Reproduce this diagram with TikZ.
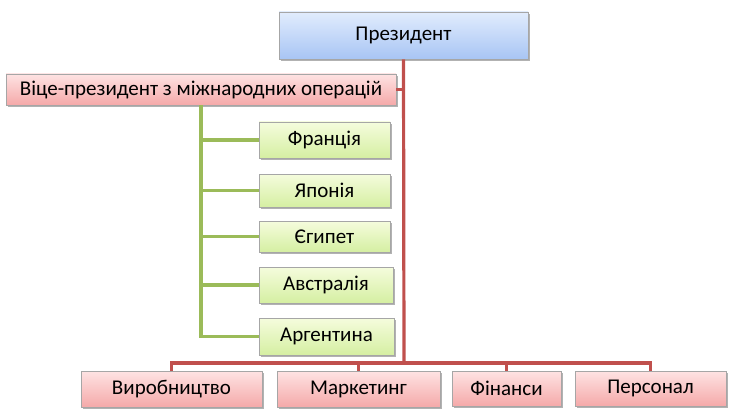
\documentclass[tikz,border=0pt]{standalone}
\usepackage{fontspec}
\setmainfont{Carlito}
\usetikzlibrary{shadows}
\definecolor{bordergray}{HTML}{A6A6A6}
\definecolor{redline}{HTML}{C0504D}
\definecolor{greenline}{HTML}{9BBB59}
\definecolor{bluetop}{HTML}{E1ECFD}
\definecolor{bluebot}{HTML}{A8C5F4}
\definecolor{redtop}{HTML}{FEE3E3}
\definecolor{redbot}{HTML}{F5A9A9}
\definecolor{greentop}{HTML}{F5FCDD}
\definecolor{greenbot}{HTML}{D5EFA2}
\tikzset{
  box/.style={draw=bordergray, line width=0.6pt, inner sep=2pt,
    font=\fontsize{21}{25}\selectfont, text=black,
    drop shadow={shadow xshift=1.5pt, shadow yshift=-1.8pt, opacity=0.3, fill=black}},
  bluebox/.style={box, top color=bluetop, bottom color=bluebot},
  redbox/.style={box, top color=redtop, bottom color=redbot},
  greenbox/.style={box, top color=greentop, bottom color=greenbot},
  rline/.style={draw=redline, line width=3.2pt},
  gline/.style={draw=greenline, line width=3.2pt},
}
\begin{document}
\begin{tikzpicture}[x=1pt,y=-1pt]
\useasboundingbox (0,0) rectangle (732,420);
\coordinate (bus) at (404,363);
\node[bluebox, minimum width=249pt, minimum height=47pt] (pres) at (403.5,35.5) {Президент};
\node[redbox, minimum width=390pt, minimum height=31pt] (vp) at (201,89.5) {Віце-президент з міжнародних операцій};
\node[greenbox, minimum width=131pt, minimum height=36pt] (fr) at (324.5,140) {Франція};
\node[greenbox, minimum width=131pt, minimum height=33pt] (jp) at (324.5,190.5) {Японія};
\node[greenbox, minimum width=131pt, minimum height=31pt] (eg) at (324.5,236.5) {Єгипет};
\node[greenbox, minimum width=134pt, minimum height=36pt] (au) at (326,285) {Австралія};
\node[greenbox, minimum width=135pt, minimum height=37pt] (ar) at (326.5,336.5) {Аргентина};
\node[redbox, minimum width=181pt, minimum height=36pt] (vyr) at (171.5,389) {Виробництво};
\node[redbox, minimum width=163pt, minimum height=36pt] (mar) at (358.5,389) {Маркетинг};
\node[redbox, minimum width=109pt, minimum height=35pt] (fin) at (506.5,388.5) {Фінанси};
\node[redbox, minimum width=151pt, minimum height=35pt] (per) at (650.5,388.5) {Персонал};
\path[rline] (pres.south) -- (bus);
\path[rline] (vp.east) -- (vp.east -| bus);
\path[rline] (vyr.north) |- (bus) -| (per.north);
\path[rline] (mar.north) -- (mar.north |- bus);
\path[rline] (fin.north) -- (fin.north |- bus);
\path[gline] (vp.south) |- (ar.west);
\path[gline] (vp.south |- fr.west) -- (fr.west);
\path[gline] (vp.south |- jp.west) -- (jp.west);
\path[gline] (vp.south |- eg.west) -- (eg.west);
\path[gline] (vp.south |- au.west) -- (au.west);
\end{tikzpicture}
\end{document}
